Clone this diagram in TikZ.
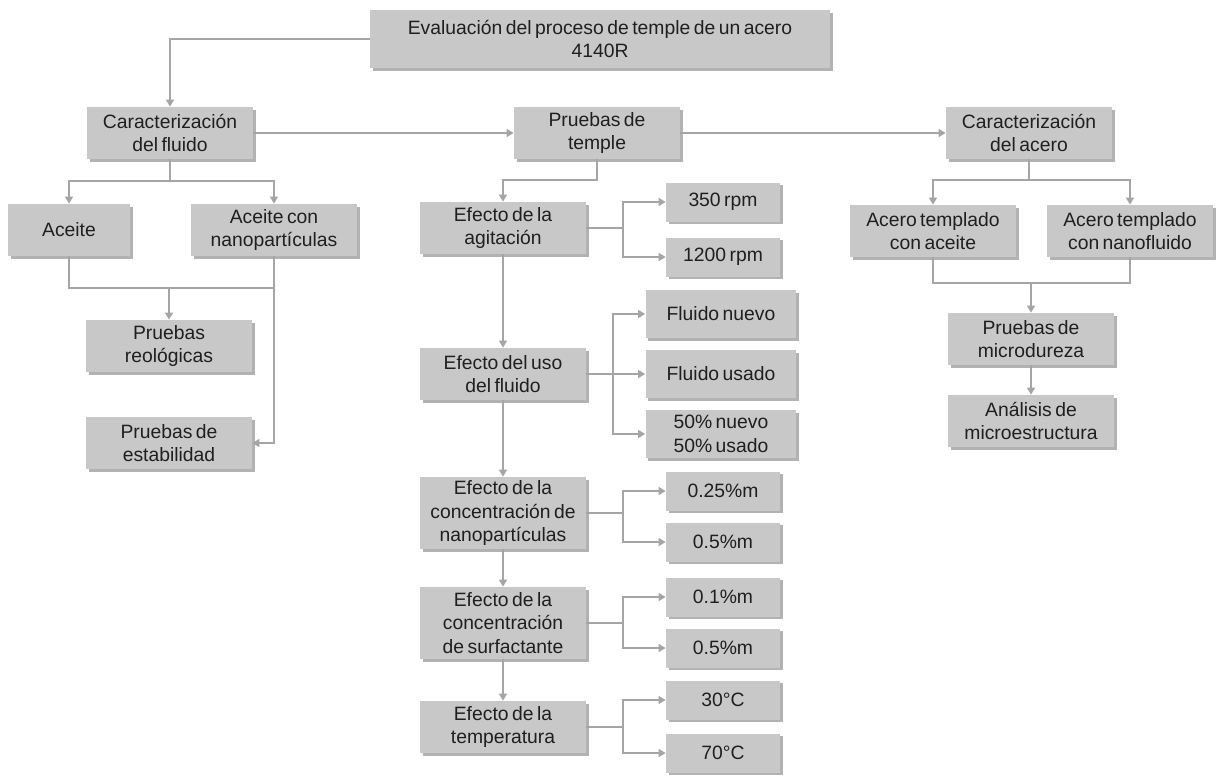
\documentclass[tikz,border=0pt]{standalone}
\usepackage{fontspec}
\setmainfont{Liberation Sans}[WordSpace=0.65]
\usetikzlibrary{arrows.meta,shadows}
\definecolor{boxfill}{RGB}{200,200,200}
\definecolor{linegray}{RGB}{165,165,165}
\begin{document}
\begin{tikzpicture}[x=0.02cm,y=-0.02cm,font=\fontsize{11}{13.3}\selectfont] % координаты в пикселях
\tikzstyle{blockbox} = [fill=boxfill, text=black!88, align=center, inner sep=0pt, drop shadow={shadow xshift=1.6pt, shadow yshift=-1.6pt, fill=black, opacity=0.3}] % base box style
\tikzstyle{mainbox} = [blockbox, minimum width=3.32cm, minimum height=1.04cm] % main step
\tikzstyle{tallbox} = [blockbox, minimum width=3.32cm, minimum height=1.44cm] % three lines
\tikzstyle{smallbox} = [blockbox, minimum width=2.28cm, minimum height=0.78cm] % option box
\tikzstyle{midbox} = [blockbox, minimum width=3.02cm, minimum height=0.96cm]
\tikzstyle{plainline} = [draw=linegray, line width=1.1pt] % соединительная линия
\tikzstyle{arrowline} = [plainline, -{Triangle[width=4.5pt,length=4pt]}] % линия со стрелкой
\useasboundingbox (0,0) rectangle (1216,775);
% верхний уровень
\node[blockbox, minimum width=9.2cm, minimum height=1.16cm] (eval) at (600,39) {Evaluación del proceso de temple de un acero\\4140R};
\node[mainbox] (cfluido) at (170,133) {Caracterización\\del fluido};
\node[mainbox] (ptemple) at (597,133) {Pruebas de\\temple};
\node[mainbox] (cacero) at (1029,133) {Caracterización\\del acero};
% fluido
\node[mainbox, minimum width=2.44cm] (aceite) at (69,230) {Aceite};
\node[mainbox] (nano) at (274,230) {Aceite con\\nanopartículas};
\node[mainbox] (reol) at (169,346) {Pruebas\\reológicas};
\node[mainbox] (estab) at (169,443) {Pruebas de\\estabilidad};
% temple
\node[mainbox] (agit) at (503,228) {Efecto de la\\agitación};
\node[mainbox] (uso) at (503,374) {Efecto del uso\\del fluido};
\node[tallbox] (cnano) at (503,513) {Efecto de la\\concentración de\\nanopartículas};
\node[tallbox] (csurf) at (503,623) {Efecto de la\\concentración\\de surfactante};
\node[mainbox] (temp) at (503,727) {Efecto de la\\temperatura};
\node[smallbox] (r350) at (723,202) {350 rpm};
\node[smallbox] (r1200) at (723,257) {1200 rpm};
\node[midbox] (fnuevo) at (721,314) {Fluido nuevo};
\node[midbox] (fusado) at (721,374) {Fluido usado};
\node[midbox] (fmix) at (721,434) {50\% nuevo\\50\% usado};
\node[smallbox] (n025) at (723,491) {0.25\%m};
\node[smallbox] (n05) at (723,542) {0.5\%m};
\node[smallbox] (s01) at (723,597) {0.1\%m};
\node[smallbox] (s05) at (723,648) {0.5\%m};
\node[smallbox] (t30) at (723,700) {30°C};
\node[smallbox] (t70) at (723,753) {70°C};
% acero
\node[mainbox] (aaceite) at (933,231) {Acero templado\\con aceite};
\node[mainbox] (ananof) at (1130,231) {Acero templado\\con nanofluido};
\node[mainbox] (micro) at (1031,339) {Pruebas de\\microdureza};
\node[mainbox] (micest) at (1031,421) {Análisis de\\microestructura};
\coordinate (jf) at (169,288); % узел слияния
\coordinate (ja) at (1031,283);
% связи
\draw[arrowline] (eval.west) -| (cfluido.north);
\draw[arrowline] (cfluido) -- (ptemple);
\draw[arrowline] (ptemple) -- (cacero);
\draw[plainline] (cfluido.south) -- ++(0,22) coordinate (bf);
\draw[arrowline] (bf) -| (aceite.north);
\draw[arrowline] (bf) -| (nano.north);
\draw[plainline] (aceite.south) |- (nano.south |- jf);
\draw[arrowline] (jf) -- (reol.north);
\draw[arrowline] (nano.south) |- (estab.east);
\draw[arrowline] (ptemple.south) -- ++(0,21) -| (agit.north);
\foreach \a/\b in {agit/uso, uso/cnano, cnano/csurf, csurf/temp}
    \draw[arrowline] (\a) -- (\b);
\foreach \src/\dst/\d in {agit/r350/37, agit/r1200/37, uso/fnuevo/27, uso/fusado/27, uso/fmix/27, cnano/n025/37, cnano/n05/37, csurf/s01/37, csurf/s05/37, temp/t30/37, temp/t70/37}
    \draw[arrowline] (\src.east) -- ++(\d,0) |- (\dst.west);
\draw[plainline] (cacero.south) -- ++(0,21) coordinate (ba);
\draw[arrowline] (ba) -| (aaceite.north);
\draw[arrowline] (ba) -| (ananof.north);
\draw[plainline] (aaceite.south) |- (ja) -| (ananof.south);
\draw[arrowline] (ja) -- (micro.north);
\draw[arrowline] (micro) -- (micest);
\end{tikzpicture}
\end{document}
